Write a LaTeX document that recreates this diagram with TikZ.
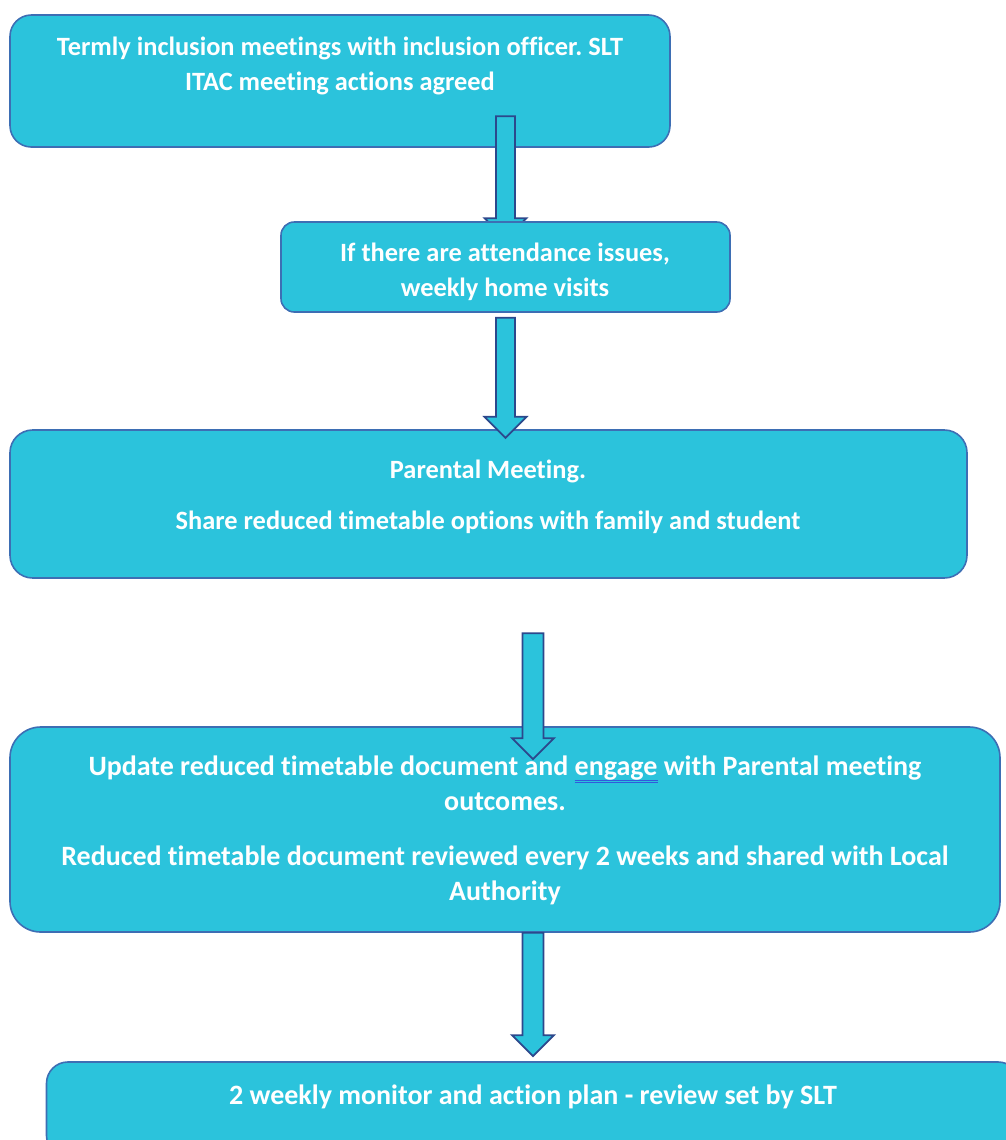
\documentclass[tikz,border=0pt]{standalone}
\usepackage{fontspec}
\setmainfont{Carlito}[RawFeature=-liga]
\usetikzlibrary{calc,backgrounds}
\definecolor{boxfill}{RGB}{43,195,220}
\definecolor{boxline}{RGB}{61,110,180}
\definecolor{arrowedge}{RGB}{44,72,140}
\definecolor{spellblue}{RGB}{50,90,220}
\newcommand\spellmark[1]{\setbox0\hbox{#1}\rlap{\color{spellblue}\rule[-4pt]{\wd0}{0.5pt}\hspace{-\wd0}\rule[-5.5pt]{\wd0}{0.5pt}}#1}
\newcommand\blockdown[3][9.5]{\draw[arrowline] ($(#2)+(-#1,0)$) -- ($(#2)+(#1,0)$) -- ($(#3)+(#1,-21)$) -- ($(#3)+(21,-21)$) -- (#3) -- ($(#3)+(-21,-21)$) -- ($(#3)+(-#1,-21)$) -- cycle;}

\begin{document}
\begin{tikzpicture}[x=0.75pt,y=-0.75pt,
  box/.style={draw=boxline,fill=boxfill,line width=1.2pt,inner sep=0pt},
  txt/.style={text=white,font=\fontsize{19.8}{26.25}\selectfont\bfseries\frenchspacing,align=center,inner sep=0pt},
  bigtxt/.style={txt,font=\fontsize{21}{26.25}\selectfont\bfseries\frenchspacing},
  arrowline/.style={draw=arrowedge,fill=boxfill,line width=1.3pt,line join=miter}]
\useasboundingbox (0,0) rectangle (1006,1140);
\clip (0,0) rectangle (1006,1140);
\begin{pgfonlayer}{background}
\node[box,minimum width=495pt,minimum height=99pt,rounded corners=16pt] (termly) at (340,81) {};
\end{pgfonlayer}
\node[box,minimum width=336.75pt,minimum height=67.5pt,rounded corners=10pt] (visits) at (505.5,267) {};
\node[box,minimum width=717.75pt,minimum height=111pt,rounded corners=17pt] (parental) at (488.5,504) {};
\node[box,minimum width=742.5pt,minimum height=153.75pt,rounded corners=23pt] (update) at (505,829.5) {};
\node[box,minimum width=729.75pt,minimum height=71.25pt,rounded corners=16pt] (monitor) at (533,1109.5) {};

\node[txt] (termlytext) at (340,66) {Termly inclusion meetings with inclusion officer. SLT\\ITAC meeting actions agreed};
\node[txt] (visitstext) at (505,271.5) {If there are attendance issues,\\weekly home visits};
\node[txt] (parentaltext) at (488,496.5) {Parental Meeting.\\[12pt]Share reduced timetable options with family and student};
\node[bigtxt] (updatetext) at (505,830.5) {Update reduced timetable document and \spellmark{engage} with Parental meeting\\outcomes.\\[15pt]Reduced timetable document reviewed every 2 weeks and shared with Local\\Authority};
\node[bigtxt] (monitortext) at (533,1097) {2 weekly monitor and action plan - review set by SLT};

\coordinate (a1) at ($(visits.north)+(0,-105)$); \coordinate (a1e) at ($(visits.north)+(0,18)$);
\coordinate (a2) at ($(visits.south)+(0,5)$); \coordinate (a2e) at ($(visits.south)+(0,125)$);
\coordinate (a3) at ($(update.north)+(28,-93)$); \coordinate (a3e) at ($(update.north)+(28,33)$);
\coordinate (a4) at ($(update.south)+(28,0)$); \coordinate (a4e) at ($(monitor.north)+(0,-5)$);
\begin{pgfonlayer}{background}
\blockdown{a1}{a1e}
\end{pgfonlayer}
\blockdown{a2}{a2e}
\blockdown[10.5]{a3}{a3e}
\blockdown[10.5]{a4}{a4e}
\end{tikzpicture}
\end{document}
